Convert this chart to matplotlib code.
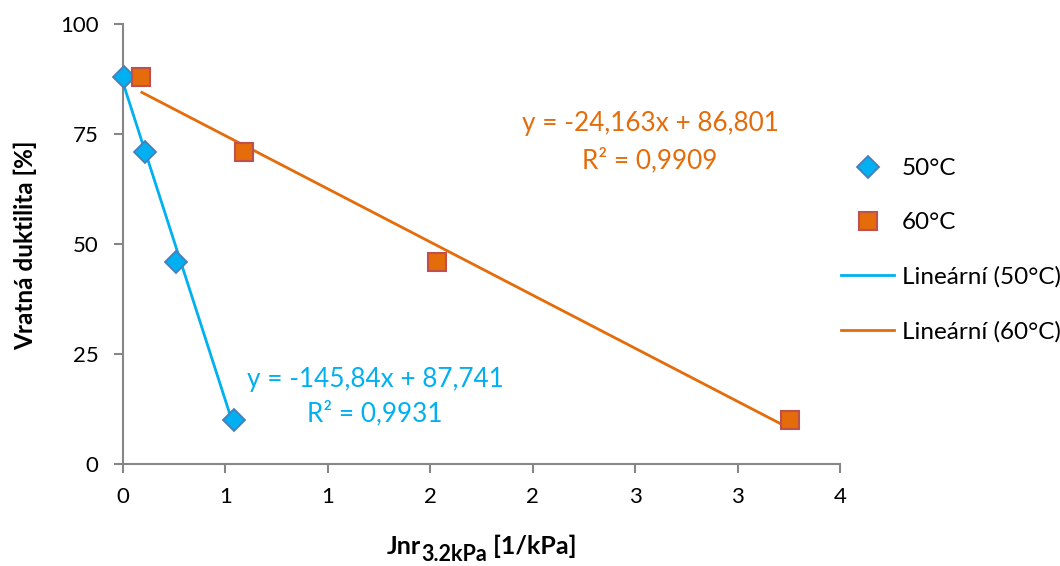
import numpy as np
import matplotlib
matplotlib.use("Agg")
import matplotlib.pyplot as plt
from matplotlib.ticker import FuncFormatter, MultipleLocator
from matplotlib.lines import Line2D

plt.rcParams['font.family'] = ['Lato', 'DejaVu Sans']

# Data
x_50 = [0.005, 0.107, 0.259, 0.542]
y_50 = [88, 71, 46, 10]
x_60 = [0.086, 0.591, 1.531, 3.256]
y_60 = [88, 71, 46, 10]
series_labels = ["50°C", "60°C"]
trend_labels = ["Lineární (50°C)", "Lineární (60°C)"]
eq_50 = ["y = -145,84x + 87,741", "R² = 0,9931"]
eq_60 = ["y = -24,163x + 86,801", "R² = 0,9909"]
y_ticks = [0, 25, 50, 75, 100]
x_label_parts = ["Jnr", "3.2kPa", " [1/kPa]"]
y_label = "Vratná duktilita [%]"

c_blue = "#00B0F0"
c_blue_edge = "#4A7EBB"
c_orange = "#E46C0A"
c_orange_edge = "#C0504D"
c_spine = "#868686"

W, H = 1060, 566
fig = plt.figure(figsize=(W / 100, H / 100), dpi=100)
ax = fig.add_axes([123 / W, 1 - 464 / H, (840 - 123) / W, (464 - 24.5) / H])

# trend lines
for xs, ys, col in [(x_50, y_50, c_blue), (x_60, y_60, c_orange)]:
    k, q = np.polyfit(xs, ys, 1)
    xx = np.array([min(xs), max(xs)])
    ax.plot(xx, k * xx + q, color=col, lw=2.0, zorder=2, solid_capstyle='butt')

ax.plot(x_50, y_50, linestyle='none', marker='D', ms=11, mfc=c_blue, mec=c_blue_edge,
        mew=1.3, zorder=4, clip_on=False)
ax.plot(x_60, y_60, linestyle='none', marker='s', ms=13.5, mfc=c_orange, mec=c_orange_edge,
        mew=1.5, zorder=4, clip_on=False)

ax.set_xlim(0, 3.5)
ax.set_ylim(0, 100)
ax.xaxis.set_major_locator(MultipleLocator(0.5))
ax.set_yticks(y_ticks)
ax.xaxis.set_major_formatter(FuncFormatter(lambda v, p: "%d" % int(np.floor(v + 0.5 + 1e-9))))

for s in ['top', 'right']:
    ax.spines[s].set_visible(False)
for s in ['left', 'bottom']:
    ax.spines[s].set_color(c_spine)
    ax.spines[s].set_linewidth(1.5)
ax.tick_params(axis='both', direction='out', length=6.5, width=1.5, color=c_spine,
               labelsize=16, labelcolor='black')
ax.tick_params(axis='x', pad=10)
ax.tick_params(axis='y', pad=11)

fig.text(25 / W, 1 - 245 / H, y_label, rotation=90, ha='center', va='center',
         fontsize=17.5, fontweight='bold')

# x label with large subscript, built piece by piece
renderer = fig.canvas.get_renderer()
sizes = [18, 15.5, 18]
offsets = [0, -7, 0]
tmp = [fig.text(0, 0, t, fontsize=s, fontweight='bold') for t, s in zip(x_label_parts, sizes)]
widths = [t.get_window_extent(renderer).width for t in tmp]
for t in tmp:
    t.remove()
x0 = 481.5 - sum(widths) / 2
base = 554
for t, s, o, w in zip(x_label_parts, sizes, offsets, widths):
    fig.text(x0 / W, 1 - (base - o) / H, t, ha='left', va='baseline', fontsize=s,
             fontweight='bold')
    x0 += w

# equations
fig.text(650 / W, 1 - 123 / H, eq_60[0], ha='center', va='center', fontsize=18.8, color=c_orange)
fig.text(650 / W, 1 - 160 / H, eq_60[1], ha='center', va='center', fontsize=18.8, color=c_orange)
fig.text(375 / W, 1 - 379 / H, eq_50[0], ha='center', va='center', fontsize=18.8, color=c_blue)
fig.text(375 / W, 1 - 413 / H, eq_50[1], ha='center', va='center', fontsize=18.8, color=c_blue)

handles = [
    Line2D([], [], linestyle='none', marker='D', ms=11, mfc=c_blue, mec=c_blue_edge, mew=1.3),
    Line2D([], [], linestyle='none', marker='s', ms=13.5, mfc=c_orange, mec=c_orange_edge, mew=1.5),
    Line2D([], [], color=c_blue, lw=2.0),
    Line2D([], [], color=c_orange, lw=2.0),
]
fig.legend(handles, series_labels + trend_labels, loc='upper left',
           bbox_to_anchor=(841 / W, 1 - 158 / H), frameon=False, fontsize=17.5,
           handlelength=2.2, handletextpad=0.3, labelspacing=1.36, borderpad=0,
           borderaxespad=0, numpoints=1)

fig.savefig("out.png", dpi=100)
